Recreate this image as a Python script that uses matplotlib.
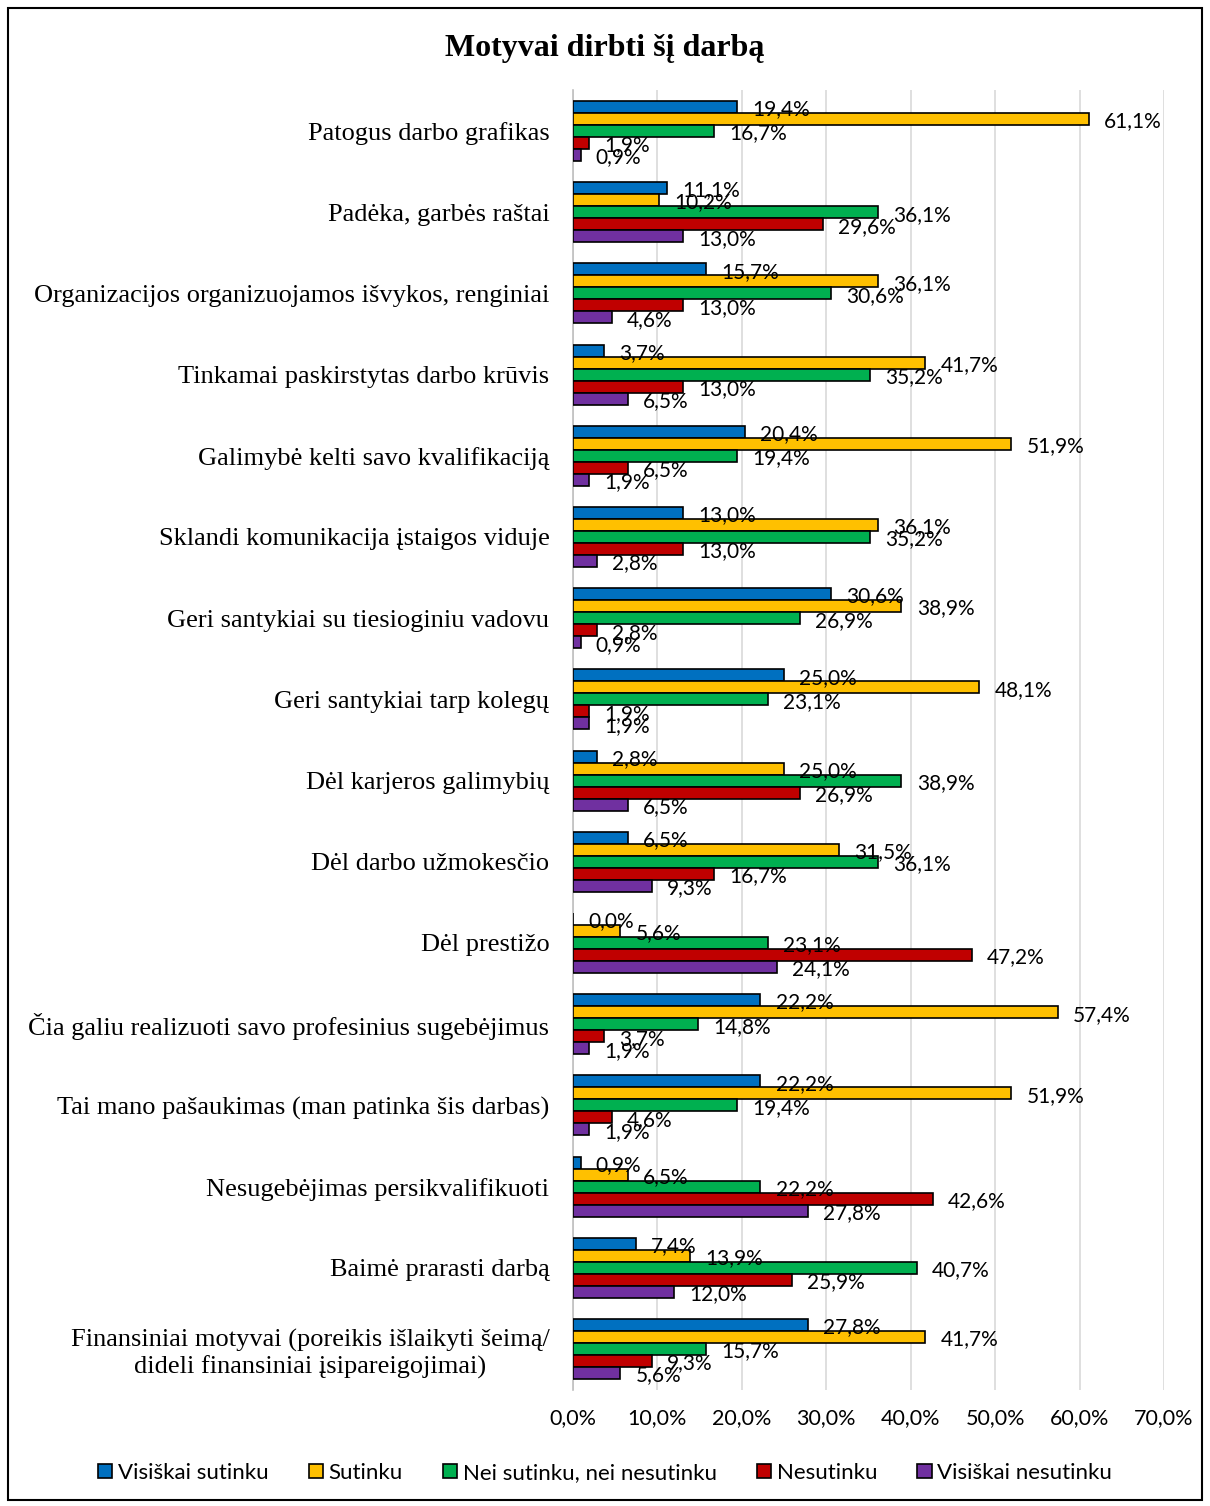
import matplotlib.pyplot as plt
import matplotlib.patches as mpatches
import numpy as np
from matplotlib.ticker import FuncFormatter

categories = [
    'Patogus darbo grafikas',
    'Padėka, garbės raštai',
    'Organizacijos organizuojamos išvykos, renginiai',
    'Tinkamai paskirstytas darbo krūvis',
    'Galimybė kelti savo kvalifikaciją',
    'Sklandi komunikacija įstaigos viduje',
    'Geri santykiai su tiesioginiu vadovu',
    'Geri santykiai tarp kolegų',
    'Dėl karjeros galimybių',
    'Dėl darbo užmokesčio',
    'Dėl prestižo',
    'Čia galiu realizuoti savo profesinius sugebėjimus',
    'Tai mano pašaukimas (man patinka šis darbas)',
    'Nesugebėjimas persikvalifikuoti',
    'Baimė prarasti darbą',
    'Finansiniai motyvai (poreikis išlaikyti šeimą/\ndideli finansiniai įsipareigojimai)',
]

series = ['Visiškai sutinku', 'Sutinku', 'Nei sutinku, nei nesutinku',
          'Nesutinku', 'Visiškai nesutinku']

visiskai_sutinku = [19.4, 11.1, 15.7, 3.7, 20.4, 13.0, 30.6, 25.0, 2.8, 6.5, 0.0, 22.2, 22.2, 0.9, 7.4, 27.8]
sutinku = [61.1, 10.2, 36.1, 41.7, 51.9, 36.1, 38.9, 48.1, 25.0, 31.5, 5.6, 57.4, 51.9, 6.5, 13.9, 41.7]
nei = [16.7, 36.1, 30.6, 35.2, 19.4, 35.2, 26.9, 23.1, 38.9, 36.1, 23.1, 14.8, 19.4, 22.2, 40.7, 15.7]
nesutinku = [1.9, 29.6, 13.0, 13.0, 6.5, 13.0, 2.8, 1.9, 26.9, 16.7, 47.2, 3.7, 4.6, 42.6, 25.9, 9.3]
visiskai_nesutinku = [0.9, 13.0, 4.6, 6.5, 1.9, 2.8, 0.9, 1.9, 6.5, 9.3, 24.1, 1.9, 1.9, 27.8, 12.0, 5.6]

data = [visiskai_sutinku, sutinku, nei, nesutinku, visiskai_nesutinku]
colors = ['#0070C0', '#FFC000', '#00B050', '#C00000', '#7030A0']

fig = plt.figure(figsize=(12.1, 15.06), dpi=100)
ax = fig.add_axes([0.4736, 0.0773, 0.4884, 0.8627])

n = len(categories)
y = np.arange(n)
h = 0.148
for i, (vals, col) in enumerate(zip(data, colors)):
    pos = y + (i - 2) * h
    ax.barh(pos, vals, height=h, color=col, edgecolor='black', linewidth=1.2, zorder=3)
    for p, v in zip(pos, vals):
        ax.text(v + 1.8, p + 0.03, f'{v:.1f}%'.replace('.', ','), va='center', ha='left',
                fontsize=15, family='Lato', zorder=4)

ax.set_ylim(n - 0.5, -0.5)
ax.set_xlim(0, 70)
ax.set_xticks(np.arange(0, 71, 10))
ax.xaxis.set_major_formatter(FuncFormatter(lambda x, _: f'{x:.1f}%'.replace('.', ',')))
ax.set_yticks(y)
ax.set_yticklabels(categories, fontsize=19, family='Liberation Serif', multialignment='center')
ax.tick_params(axis='y', length=0, pad=17)
ax.tick_params(axis='x', length=0, pad=13, labelsize=15.5)
for lbl in ax.get_xticklabels():
    lbl.set_family('Lato')
ax.grid(axis='x', color='#D9D9D9', linewidth=1.2, zorder=0)
for s in ['top', 'right', 'bottom']:
    ax.spines[s].set_visible(False)
ax.spines['left'].set_color('#BFBFBF')
ax.spines['left'].set_linewidth(1.2)

fig.text(0.5, 0.968, 'Motyvai dirbti šį darbą', ha='center', va='center',
         fontsize=23, fontweight='bold', family='Liberation Serif')

handles = [mpatches.Patch(facecolor=c, edgecolor='black', linewidth=1.2, label=s)
           for c, s in zip(colors, series)]
fig.legend(handles=handles, loc='center', bbox_to_anchor=(0.5, 0.022), ncol=5, frameon=False,
           prop={'family': 'Lato', 'size': 16}, handlelength=0.65, handleheight=0.65,
           handletextpad=0.25, columnspacing=1.8)

fig.patches.append(mpatches.Rectangle((8 / 1210, 6 / 1506), 1194 / 1210, 1492 / 1506,
                                      transform=fig.transFigure, fill=False,
                                      edgecolor='black', linewidth=1.5))

fig.savefig('out.png', dpi=100)
